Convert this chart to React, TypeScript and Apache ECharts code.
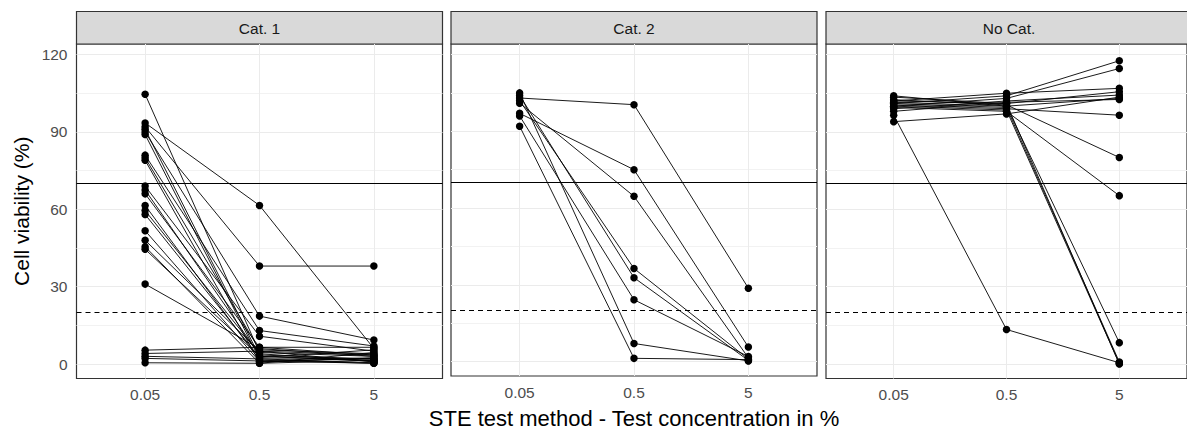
import React, { useEffect, useRef } from 'react';
import * as echarts from 'echarts';

// ---- data ----
const panels = ['Cat. 1', 'Cat. 2', 'No Cat.'];
const concentrations = ['0.05', '0.5', '5'];
const yTicks = [0, 30, 60, 90, 120];
const yMinor = [15, 45, 75, 105];
const thresholdSolid = 70;
const thresholdDashed = 20;
const xTitle = 'STE test method - Test concentration in %';
const yTitle = 'Cell viability (%)';

// each row: viability at 0.05 %, 0.5 %, 5 %
const cat1 = [
  [104.6, 4.5, 3],
  [93.5, 61.5, 6],
  [92, 38, 38],
  [91, 3, 1.5],
  [90, 18.6, 9.3],
  [89, 2, 0.5],
  [81, 13, 7],
  [80, 5.5, 4],
  [79, 0.8, 2.5],
  [69, 10.8, 5],
  [67.5, 3.5, 2],
  [66, 6.5, 3.5],
  [61.5, 1.5, 0.3],
  [59.5, 4, 1],
  [58, 2.5, 5.5],
  [51.7, 1, 2.2],
  [48, 5, 0.8],
  [45.5, 0.3, 4.5],
  [44.5, 3, 1.2],
  [31, 6, 3],
  [5.4, 6.5, 6.5],
  [4.1, 5, 3.5],
  [3, 2, 2],
  [2.2, 1.2, 0.3],
  [0.5, 0.3, 1.5],
];
const cat2 = [
  [103, 100.4, 28.7],
  [97, 75, 5.7],
  [101, 64.6, 1.5],
  [102, 36.4, 1],
  [104, 32.8, 0.5],
  [96, 24.2, 2],
  [105, 7.1, 0.3],
  [92, 1.3, 0.8],
];
const noCat = [
  [96.5, 13.4, 0.5],
  [101, 104, 117.6],
  [100, 103, 114.6],
  [102, 105, 106.9],
  [103.5, 101, 105.6],
  [99, 102, 104.3],
  [101.5, 100, 103],
  [98, 101.5, 102.6],
  [100.5, 99, 96.5],
  [102.5, 100.5, 80.1],
  [99.5, 98, 65.3],
  [94, 97, 103.5],
  [104, 100, 8.3],
  [101, 99.5, 0.8],
  [100, 98.5, 0.2],
  [102, 101, 0],
];
const panelData = [cat1, cat2, noCat];

// ---- layout ----
const W = 1187;
const H = 434;
const panelLefts = [76.5, 451, 826];
const panelWidth = 366;
const panelTop = 44;
const panelHeight = 334.5;
const stripTop = 11.5;
const FONT = '"Liberation Sans", Arial, sans-serif';

export default function App() {
  const ref = useRef<HTMLDivElement>(null);

  useEffect(() => {
    if (!ref.current) return;
    const chart = echarts.init(ref.current, undefined, { renderer: 'svg' });

    const grid = panelLefts.map((l) => ({
      left: l,
      top: panelTop,
      width: panelWidth,
      height: panelHeight,
      show: true,
      borderColor: '#333333',
      borderWidth: 1.2,
      backgroundColor: '#ffffff',
      containLabel: false,
    }));

    const xAxis = panelLefts.map((_, i) => ({
      type: 'value',
      gridIndex: i,
      min: -0.6,
      max: 2.6,
      splitLine: { show: false },
      axisLine: { show: false },
      axisTick: {
        show: true,
        customValues: [0, 1, 2],
        length: 3,
        lineStyle: { color: '#333333', width: 1 },
      },
      axisLabel: {
        show: true,
        customValues: [0, 1, 2],
        formatter: (v: number) => concentrations[Math.round(v)] ?? '',
        color: '#4D4D4D',
        fontSize: 15.5,
        fontFamily: FONT,
        margin: 8,
      },
      ...(i === 1
        ? {
            name: xTitle,
            nameLocation: 'middle',
            nameGap: 31,
            nameTextStyle: { color: '#000000', fontSize: 22, fontFamily: FONT },
          }
        : {}),
    }));

    const yAxis = panelLefts.map((_, i) => ({
      type: 'value',
      gridIndex: i,
      min: -5.6,
      max: 124.1,
      splitLine: { show: false },
      axisLine: { show: false },
      axisTick: {
        show: i === 0,
        customValues: yTicks,
        length: 3,
        lineStyle: { color: '#333333', width: 1 },
      },
      axisLabel: {
        show: i === 0,
        customValues: yTicks,
        color: '#4D4D4D',
        fontSize: 15.5,
        fontFamily: FONT,
        margin: 9,
      },
    }));

    const series: any[] = [];
    panelLefts.forEach((_, i) => {
      // grid lines
      series.push({
        type: 'line',
        xAxisIndex: i,
        yAxisIndex: i,
        data: [],
        silent: true,
        z: 1,
        markLine: {
          z: 1,
          silent: true,
          symbol: ['none', 'none'],
          label: { show: false },
          animation: false,
          data: [
            ...yMinor.map((v) => ({ yAxis: v, lineStyle: { color: '#F2F2F2', width: 1, type: 'solid' } })),
            ...yTicks.map((v) => ({ yAxis: v, lineStyle: { color: '#EBEBEB', width: 1, type: 'solid' } })),
            ...concentrations.map((_, k) => ({ xAxis: k, lineStyle: { color: '#EBEBEB', width: 1, type: 'solid' } })),
          ],
        },
      });
      // thresholds
      series.push({
        type: 'line',
        xAxisIndex: i,
        yAxisIndex: i,
        data: [],
        silent: true,
        z: 2,
        markLine: {
          z: 2,
          silent: true,
          symbol: ['none', 'none'],
          label: { show: false },
          animation: false,
          data: [
            { yAxis: thresholdSolid, lineStyle: { color: '#000000', width: 1.1, type: 'solid' } },
            { yAxis: thresholdDashed, lineStyle: { color: '#000000', width: 1.1, type: [5, 4] } },
          ],
        },
      });
      panelData[i].forEach((row) => {
        series.push({
          type: 'line',
          xAxisIndex: i,
          yAxisIndex: i,
          data: row.map((v, k) => [k, v]),
          symbol: 'circle',
          symbolSize: 7.5,
          itemStyle: { color: '#000000', borderWidth: 0, borderColor: '#000000' },
          lineStyle: { color: '#000000', width: 0.9 },
          z: 10,
          silent: true,
        });
      });
    });

    const graphic: any[] = [];
    panelLefts.forEach((l, i) => {
      graphic.push({
        type: 'rect',
        shape: { x: l, y: stripTop, width: panelWidth, height: panelTop - stripTop },
        style: { fill: '#D9D9D9', stroke: '#333333', lineWidth: 1.2 },
        silent: true,
      });
      graphic.push({
        type: 'text',
        x: l + panelWidth / 2,
        y: (stripTop + panelTop) / 2 + 0.5,
        style: {
          text: panels[i],
          fill: '#1A1A1A',
          font: `15.5px ${FONT}`,
          align: 'center',
          verticalAlign: 'middle',
        },
        silent: true,
      });
    });
    graphic.push({
      type: 'text',
      x: 21,
      y: panelTop + panelHeight / 2,
      rotation: Math.PI / 2,
      style: {
        text: yTitle,
        fill: '#000000',
        font: `21px ${FONT}`,
        align: 'center',
        verticalAlign: 'middle',
      },
      silent: true,
    });

    chart.setOption({
      animation: false,
      backgroundColor: '#ffffff',
      textStyle: { fontFamily: FONT },
      grid,
      xAxis,
      yAxis,
      series,
      graphic,
    });

    return () => chart.dispose();
  }, []);

  return (
    <div
      ref={ref}
      style={{ position: 'absolute', left: 0, top: 0, width: W, height: H }}
    />
  );
}
